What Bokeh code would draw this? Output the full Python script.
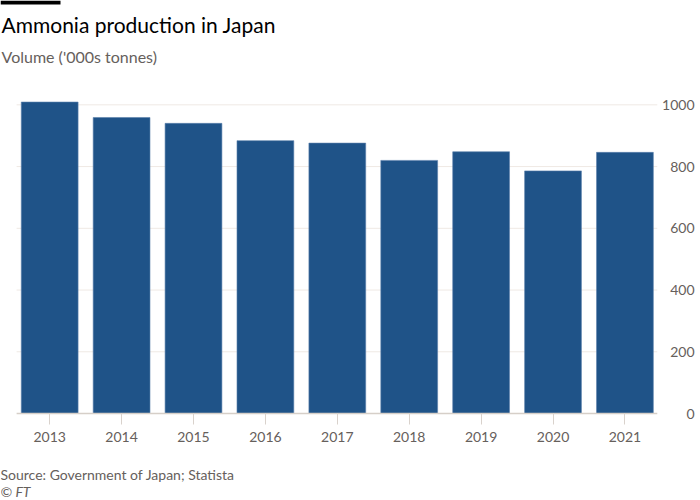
from bokeh.plotting import figure
from bokeh.models import Range1d, FixedTicker, LinearAxis
from bokeh.layouts import column
from bokeh.core.properties import value
from bokeh.embed import file_html
from bokeh.resources import INLINE

years = ["2013", "2014", "2015", "2016", "2017", "2018", "2019", "2020", "2021"]
volume = [1009, 959, 940, 884, 876, 820, 848, 786, 846]
y_ticks = [0, 200, 400, 600, 800, 1000]
y_tick_labels = ["0", "200", "400", "600", "800", "1000"]

title = "Ammonia production in Japan"
subtitle = "Volume ('000s tonnes)"
source_text = "Source: Government of Japan; Statista"
credit = "© FT"

FONT = "Lato"
GREY = "#66605c"
BAR = "#1f5388"
GRID = "#efe9e4"
W = 700


def blank(height):
    f = figure(width=W, height=height, x_range=Range1d(0, W), y_range=Range1d(height, 0),
               output_backend="svg", toolbar_location=None, x_axis_location=None,
               y_axis_location=None, min_border=0)
    f.outline_line_color = None
    f.grid.visible = False
    f.background_fill_color = "white"
    f.border_fill_color = "white"
    return f

# header
head = blank(96)
head.quad(left=[0], right=[60], top=[0], bottom=[4], fill_color="black", line_color=None)
head.text(x=[1], y=[24], text=[title], text_baseline="middle", text_font=value(FONT),
          text_font_size="21px", text_color="#000000")
head.text(x=[1], y=[56], text=[subtitle], text_baseline="middle", text_font=value(FONT),
          text_font_size="16px", text_color=GREY)

# main chart
n = len(years)
xpos = list(range(n))
p = figure(width=W, height=357, x_range=Range1d(-0.684, 9.051),
           y_range=Range1d(-35.6, 1027), output_backend="svg", toolbar_location=None,
           x_axis_location=None, y_axis_location=None,
           min_border_left=0, min_border_right=0, min_border_top=0, min_border_bottom=29)
p.background_fill_color = "white"
p.border_fill_color = "white"
p.outline_line_color = None
p.grid.visible = False

gx0, gx1 = -0.46, n - 0.55
grid_y = [t for t in y_ticks if t > 0]
p.segment(x0=[gx0] * len(grid_y), x1=[gx1] * len(grid_y), y0=grid_y, y1=grid_y,
          line_color=GRID, line_width=1)

p.vbar(x=xpos, top=volume, bottom=0, width=0.79, fill_color=BAR, line_color="#5a7fab",
       line_width=0.6)

p.segment(x0=[gx0], x1=[gx1], y0=[0], y1=[0], line_color="#d6cfc8", line_width=1.5)

p.text(x=[n - 0.032] * len(y_ticks), y=y_ticks, text=y_tick_labels,
       text_align="right", text_baseline="middle", text_font=value(FONT),
       text_font_size="14px", text_color=GREY)

ax = LinearAxis(ticker=FixedTicker(ticks=xpos),
                major_label_overrides={i: y for i, y in zip(xpos, years)})
ax.axis_line_color = None
ax.major_tick_line_color = "#d9d2cc"
ax.major_tick_out = 0
ax.major_tick_in = 11
ax.minor_tick_line_color = None
ax.major_label_text_font = FONT
ax.major_label_text_font_size = "14px"
ax.major_label_text_color = GREY
ax.major_label_standoff = 7
p.add_layout(ax, "below")

# footer
foot = blank(47)
foot.text(x=[0], y=[21], text=[source_text], text_baseline="middle", text_font=value(FONT),
          text_font_size="14px", text_color=GREY)
foot.text(x=[0], y=[38], text=[credit], text_baseline="middle", text_font=value(FONT),
          text_font_size="14px", text_color=GREY, text_font_style="italic")

layout = column(head, p, foot, spacing=0)
open("out.html", "w").write(file_html(layout, INLINE))
